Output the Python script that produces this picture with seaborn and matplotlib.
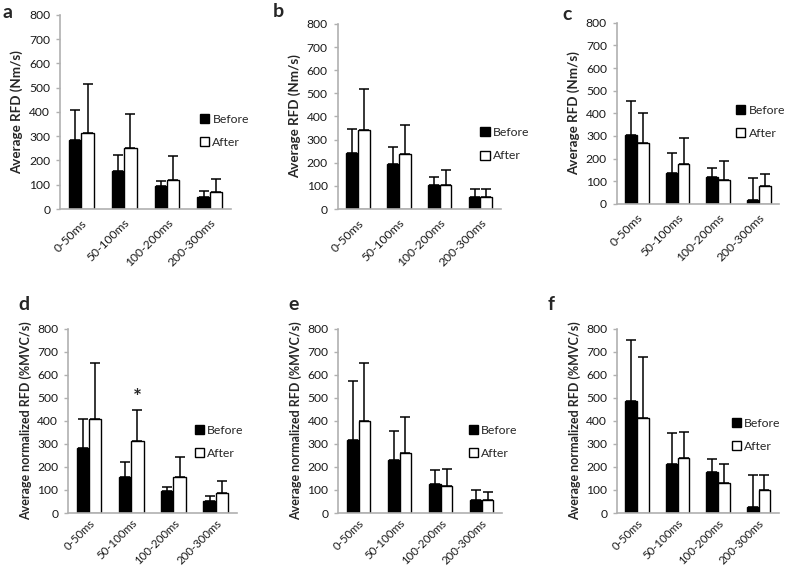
import numpy as np
import pandas as pd
import matplotlib
matplotlib.use("Agg")
import matplotlib.pyplot as plt
import seaborn as sns

sns.set_style("white")
plt.rcParams['font.family'] = ['Lato', 'DejaVu Sans']

categories = ["0-50ms", "50-100ms", "100-200ms", "200-300ms"]
groups = ["Before", "After"]

# panel values (means) and upper error-bar tops
a_before = [283, 158, 95, 50];   a_before_top = [408, 222, 115, 75]
a_after = [312, 250, 120, 70];   a_after_top = [515, 393, 218, 123]
b_before = [240, 195, 105, 50];  b_before_top = [345, 270, 137, 85]
b_after = [340, 237, 105, 52];   b_after_top = [518, 362, 167, 88]
c_before = [305, 137, 118, 17];  c_before_top = [455, 223, 160, 113]
c_after = [268, 178, 105, 77];   c_after_top = [403, 290, 190, 132]
d_before = [283, 158, 95, 50];   d_before_top = [408, 222, 115, 75]
d_after = [410, 312, 155, 88];   d_after_top = [652, 447, 245, 140]
e_before = [318, 232, 125, 57];  e_before_top = [573, 355, 187, 102]
e_after = [398, 262, 118, 55];   e_after_top = [650, 417, 193, 90]
f_before = [488, 212, 178, 25];  f_before_top = [752, 347, 233, 163]
f_after = [413, 240, 130, 102];  f_after_top = [677, 352, 212, 165]

yticks = [0, 100, 200, 300, 400, 500, 600, 700, 800]
ylabel_top = "Average RFD (Nm/s)"
ylabel_bot = "Average normalized RFD (%MVC/s)"

panels = [
    # letter, data, axes rect, ylabel, ylabel size, xtick size, letter pos, legend pos (fig coords)
    ("a", a_before, a_before_top, a_after, a_after_top, [0.0764, 0.632, 0.218, 0.342], ylabel_top, 9.6, 8.7, (0.003, 0.993), (0.255, 0.770)),
    ("b", b_before, b_before_top, b_after, b_after_top, [0.430, 0.632, 0.208, 0.326], ylabel_top, 9.6, 8.7, (0.347, 0.995), (0.612, 0.746)),
    ("c", c_before, c_before_top, c_after, c_after_top, [0.7856, 0.641, 0.207, 0.319], ylabel_top, 9.6, 8.7, (0.716, 0.990), (0.938, 0.785)),
    ("d", d_before, d_before_top, d_after, d_after_top, [0.0866, 0.0968, 0.215, 0.3245], ylabel_bot, 9.0, 8.2, (0.024, 0.478), (0.248, 0.222)),
    ("e", e_before, e_before_top, e_after, e_after_top, [0.4306, 0.0968, 0.209, 0.3245], ylabel_bot, 9.0, 8.2, (0.367, 0.478), (0.597, 0.222)),
    ("f", f_before, f_before_top, f_after, f_after_top, [0.786, 0.0968, 0.206, 0.3245], ylabel_bot, 9.0, 8.2, (0.697, 0.478), (0.932, 0.234)),
]

fig = plt.figure(figsize=(7.85, 5.68), dpi=100)
spine_col = "#b0b0b0"

for letter, bef, bef_top, aft, aft_top, rect, ylab, ylsize, xtsize, lpos, legpos in panels:
    ax = fig.add_axes(rect)
    df = pd.DataFrame({
        "cat": categories * 2,
        "group": [groups[0]] * 4 + [groups[1]] * 4,
        "val": list(bef) + list(aft),
    })
    sns.barplot(data=df, x="cat", y="val", hue="group", order=categories,
                hue_order=groups, palette=["black", "white"], edgecolor="black",
                linewidth=1.0, width=0.58, errorbar=None, ax=ax)
    bars = ax.patches[:8]
    tops = list(bef_top) + list(aft_top)
    vals = list(bef) + list(aft)
    xs = [p.get_x() + p.get_width() / 2 for p in bars]
    ax.errorbar(xs, vals, yerr=[np.zeros(8), np.array(tops) - np.array(vals)],
                fmt="none", ecolor="black", elinewidth=1.1, capsize=3.6,
                capthick=1.1, zorder=1)
    ax.set_ylim(0, 800)
    ax.set_xlim(-0.5, 3.5)
    ax.set_yticks(yticks)
    ax.tick_params(axis="y", length=3, width=1, color=spine_col, labelsize=8.7,
                   labelcolor="#1a1a1a", pad=4, left=True)
    ax.tick_params(axis="x", length=0, labelsize=xtsize, labelcolor="#1a1a1a",
                   pad=6 if letter in "abc" else 3)
    for lab in ax.get_xticklabels():
        lab.set_rotation(45)
        lab.set_ha("right")
        lab.set_rotation_mode("anchor")
    for s in ["top", "right"]:
        ax.spines[s].set_visible(False)
    for s in ["left", "bottom"]:
        ax.spines[s].set_color(spine_col)
        ax.spines[s].set_linewidth(1.2)
    ax.set_xlabel("")
    ax.set_ylabel(ylab, fontsize=ylsize, fontweight="bold", labelpad=4)
    handles, labels = ax.get_legend_handles_labels()
    ax.legend(handles, labels, loc="center left", bbox_to_anchor=legpos,
              bbox_transform=fig.transFigure, frameon=False, fontsize=8.8,
              handlelength=0.75, handleheight=0.75, handletextpad=0.25,
              labelspacing=1.0, borderpad=0, borderaxespad=0)
    fig.text(lpos[0], lpos[1], letter, fontsize=14, fontweight="bold",
             va="top", ha="left")
    if letter == "d":
        ax.text(xs[5], 455, "*", ha="center", va="bottom", fontsize=15,
                fontweight="bold")

fig.savefig("out.png", dpi=100)
